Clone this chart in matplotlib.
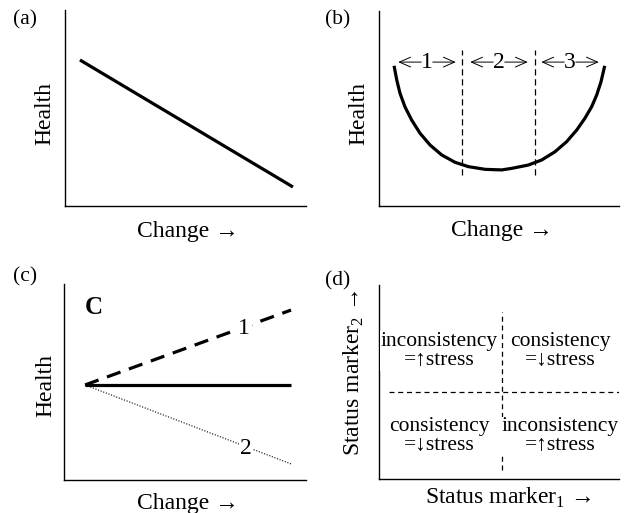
import matplotlib
matplotlib.use("Agg")
import matplotlib.pyplot as plt

plt.rcParams['font.family'] = ['Liberation Serif', 'DejaVu Serif']
plt.rcParams['mathtext.fontset'] = 'custom'
plt.rcParams['mathtext.rm'] = 'Liberation Serif'

W, H = 624, 513

# (a) linear decline
a_x = [0.062, 0.946]
a_y = [0.745, 0.097]

# (b) U-shaped curve
b_x = [0.064, 0.074, 0.0875, 0.108, 0.136, 0.171, 0.2125, 0.261, 0.317, 0.372,
       0.442, 0.511, 0.553, 0.622, 0.678, 0.733, 0.782, 0.824, 0.858, 0.886,
       0.907, 0.925, 0.939]
b_y = [0.711, 0.646, 0.578, 0.509, 0.441, 0.373, 0.313, 0.262, 0.224, 0.202,
       0.188, 0.185, 0.193, 0.210, 0.236, 0.278, 0.330, 0.390, 0.450, 0.509,
       0.569, 0.637, 0.711]
b_zones = ['1', '2', '3']
b_zone_centers = [0.2, 0.5, 0.796]
b_dividers = [0.346, 0.65]

# (c) three paths from a common start
c_x = [0.087, 0.938]
c_solid = [0.485, 0.485]
c_up = [0.485, 0.867]
c_down = [0.485, 0.082]

# (d) quadrant text
d_text = {
    (0.25, 0.66): 'inconsistency\n=\u2191stress',
    (0.754, 0.66): 'consistency\n=\u2193stress',
    (0.25, 0.22): 'consistency\n=\u2193stress',
    (0.754, 0.22): 'inconsistency\n=\u2191stress',
}


def make_ax(x0, y0, x1, y1):
    # pixel box -> figure fraction
    ax = fig.add_axes([x0 / W, 1 - y1 / H, (x1 - x0) / W, (y1 - y0) / H])
    ax.set_xlim(0, 1)
    ax.set_ylim(0, 1)
    ax.spines['top'].set_visible(False)
    ax.spines['right'].set_visible(False)
    ax.spines['left'].set_linewidth(1.0)
    ax.spines['bottom'].set_linewidth(1.0)
    ax.set_xticks([])
    ax.set_yticks([])
    return ax


fig = plt.figure(figsize=(6.24, 5.13), dpi=100)
lab = 17
for txt, px, py in [('(a)', 13, 20), ('(b)', 325, 20), ('(c)', 13, 277), ('(d)', 325, 281)]:
    fig.text(px / W, 1 - py / H, txt, fontsize=15.5, ha='left', va='center')

# (a)
ax = make_ax(65, 10, 306, 206)
ax.plot(a_x, a_y, color='black', lw=2.3, solid_capstyle='butt')
ax.text(-0.083, 0.474, 'Health', rotation=90, fontsize=lab, ha='center', va='center')
ax.text(0.51, -0.128, 'Change \u2192', fontsize=lab, ha='center', va='center')

# (b)
ax = make_ax(379, 11, 619, 206)
ax.plot(b_x, b_y, color='black', lw=2.3, solid_joinstyle='round')
for xd in b_dividers:
    ax.plot([xd, xd], [0.159, 0.8], color='black', lw=0.9, ls=(0, (5, 3)))
for z, xc in zip(b_zones, b_zone_centers):
    ax.text(xc, 0.738, z, fontsize=lab, ha='center', va='center')
    for sgn in (-1, 1):
        ax.annotate('', xy=(xc + sgn * 0.12, 0.738), xytext=(xc + sgn * 0.024, 0.738),
                    arrowprops=dict(arrowstyle='->,head_length=0.8,head_width=0.35',
                                    lw=0.7, color='black', shrinkA=0, shrinkB=0))
ax.text(-0.085, 0.474, 'Health', rotation=90, fontsize=lab, ha='center', va='center')
ax.text(0.512, -0.128, 'Change \u2192', fontsize=lab, ha='center', va='center')

# (c)
ax = make_ax(64, 284, 306, 480)
ax.plot(c_x, c_solid, color='black', lw=2.3, solid_capstyle='butt')
ax.plot(c_x, c_up, color='black', lw=2.3, ls=(0, (4.5, 2.8)), dash_capstyle='butt')
ax.plot(c_x, c_down, color='black', lw=0.8, ls=(0, (1, 1.5)))
ax.text(0.745, 0.775, '1', fontsize=lab, ha='center', va='center',
        bbox=dict(facecolor='white', edgecolor='none', pad=1))
ax.text(0.752, 0.163, '2', fontsize=lab, ha='center', va='center',
        bbox=dict(facecolor='white', edgecolor='none', pad=1))
ax.text(0.124, 0.878, 'C', fontsize=18, fontweight='bold', ha='center', va='center')
ax.text(-0.076, 0.482, 'Health', rotation=90, fontsize=lab, ha='center', va='center')
ax.text(0.512, -0.122, 'Change \u2192', fontsize=lab, ha='center', va='center')

# (d)
ax = make_ax(379, 285, 619, 479)
ax.plot([0.5125, 0.5125], [0.046, 0.861], color='black', lw=0.9, ls=(0, (4, 3)))
ax.plot([0.042, 1.0], [0.448, 0.448], color='black', lw=0.9, ls=(0, (4, 3)))
for (xq, yq), t in d_text.items():
    ax.text(xq, yq, t, fontsize=15.5, ha='center', va='center', linespacing=1.0,
            bbox=dict(facecolor='white', edgecolor='none', pad=0.5))
ax.text(-0.104, 0.546, 'Status marker$_2$ \u2192', rotation=90, fontsize=lab,
        ha='center', va='center')
ax.text(0.54, -0.098, 'Status marker$_1$ \u2192', fontsize=lab, ha='center', va='center')

fig.savefig('out.png', dpi=100)
